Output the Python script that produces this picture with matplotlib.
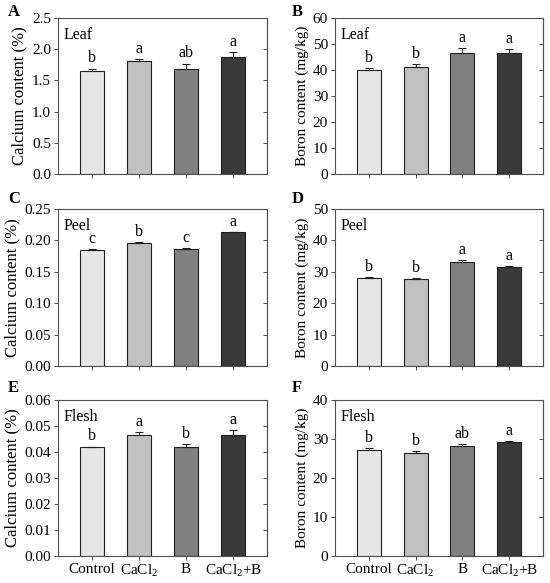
import matplotlib
matplotlib.use("Agg")
from matplotlib import pyplot as plt

plt.rcParams['font.family'] = ['Liberation Serif', 'DejaVu Serif']
plt.rcParams['mathtext.fontset'] = 'custom'
plt.rcParams['mathtext.rm'] = 'Liberation Serif'
plt.rcParams['mathtext.it'] = 'Liberation Serif:italic'

treatments = ['Control', r'CaCl$_\mathregular{2}$', 'B', r'CaCl$_\mathregular{2}$+B']
bar_colors = ['#e6e6e6', '#c0c0c0', '#808080', '#3a3a3a']

# calcium (%) and boron (mg/kg) per tissue
leaf_ca = [1.65, 1.81, 1.68, 1.87]
leaf_ca_err = [0.04, 0.03, 0.09, 0.09]
leaf_ca_sig = ['b', 'a', 'ab', 'a']

leaf_b = [40.0, 41.0, 46.4, 46.5]
leaf_b_err = [0.8, 1.4, 2.1, 1.6]
leaf_b_sig = ['b', 'b', 'a', 'a']

peel_ca = [0.185, 0.196, 0.187, 0.213]
peel_ca_err = [0.001, 0.0015, 0.001, 0.001]
peel_ca_sig = ['c', 'b', 'c', 'a']

peel_b = [28.0, 27.7, 33.0, 31.6]
peel_b_err = [0.3, 0.3, 0.6, 0.3]
peel_b_sig = ['b', 'b', 'a', 'a']

flesh_ca = [0.0418, 0.0465, 0.0419, 0.0467]
flesh_ca_err = [0.0003, 0.0011, 0.0012, 0.0017]
flesh_ca_sig = ['b', 'a', 'b', 'a']

flesh_b = [27.1, 26.3, 28.1, 29.3]
flesh_b_err = [0.6, 0.6, 0.5, 0.2]
flesh_b_sig = ['b', 'b', 'ab', 'a']

panels = [
    ('A', 'Leaf', leaf_ca, leaf_ca_err, leaf_ca_sig, 'Calcium content (%)', 2.5, 0.5, '%.1f'),
    ('B', 'Leaf', leaf_b, leaf_b_err, leaf_b_sig, 'Boron content (mg/kg)', 60, 10, '%d'),
    ('C', 'Peel', peel_ca, peel_ca_err, peel_ca_sig, 'Calcium content (%)', 0.25, 0.05, '%.2f'),
    ('D', 'Peel', peel_b, peel_b_err, peel_b_sig, 'Boron content (mg/kg)', 50, 10, '%d'),
    ('E', 'Flesh', flesh_ca, flesh_ca_err, flesh_ca_sig, 'Calcium content (%)', 0.06, 0.01, '%.2f'),
    ('F', 'Flesh', flesh_b, flesh_b_err, flesh_b_sig, 'Boron content (mg/kg)', 40, 10, '%d'),
]

W, H = 550, 583
fig = plt.figure(figsize=(W / 100, H / 100), dpi=100)

# axes boxes in pixels: (left, top, right, bottom)
col_x = [(58, 267), (335, 543)]
row_y = [(18, 174), (209, 366), (400, 556)]
letter_y = [12, 199, 388]

x = range(len(treatments))
spine_col = '#505050'

for i, (letter, tissue, vals, errs, sig, ylab, ymax, step, fmt) in enumerate(panels):
    r, c = divmod(i, 2)
    x0, x1 = col_x[c]
    y0, y1 = row_y[r]
    ax = fig.add_axes([x0 / W, 1 - y1 / H, (x1 - x0) / W, (y1 - y0) / H])

    ax.bar(x, vals, width=0.51, color=bar_colors, edgecolor='#202020', linewidth=0.8, zorder=2)
    ax.errorbar(x, vals, yerr=[[0] * 4, errs], fmt='none', ecolor='#202020',
                elinewidth=0.8, capsize=3, capthick=0.8, zorder=3)
    for xi, v, e, s in zip(x, vals, errs, sig):
        ax.annotate(s, (xi, v + e), xytext=(0, 1.5), textcoords='offset points',
                    ha='center', va='bottom', fontsize=11.5)

    ax.set_xlim(-0.72, 3.72)
    ax.set_ylim(0, ymax)
    ticks = [k * step for k in range(int(round(ymax / step)) + 1)]
    ax.set_yticks(ticks)
    ax.set_yticklabels([fmt % t for t in ticks], fontsize=11)
    ax.set_xticks(list(x))
    if r == 2:
        ax.set_xticklabels(treatments, fontsize=11)
    else:
        ax.set_xticklabels([])
    ax.tick_params(axis='both', direction='out', length=3, width=0.7, color=spine_col, pad=2)
    ax.set_ylabel(ylab, fontsize=12 if c == 0 else 11, labelpad=3)

    right = ax.secondary_yaxis('right')
    right.set_yticks(ticks)
    right.set_yticklabels([])
    right.tick_params(direction='in', length=3, width=0.7, color=spine_col)
    right.spines['right'].set_color(spine_col)
    right.spines['right'].set_linewidth(0.8)

    for sp in ax.spines.values():
        sp.set_color(spine_col)
        sp.set_linewidth(0.8)

    ax.text(0.025, 0.94, tissue, transform=ax.transAxes, ha='left', va='top', fontsize=11.5)
    fig.text((8 if c == 0 else 292) / W, 1 - letter_y[r] / H, letter,
             fontsize=12, fontweight='bold', ha='left', va='center')

fig.savefig('out.png', dpi=100)
